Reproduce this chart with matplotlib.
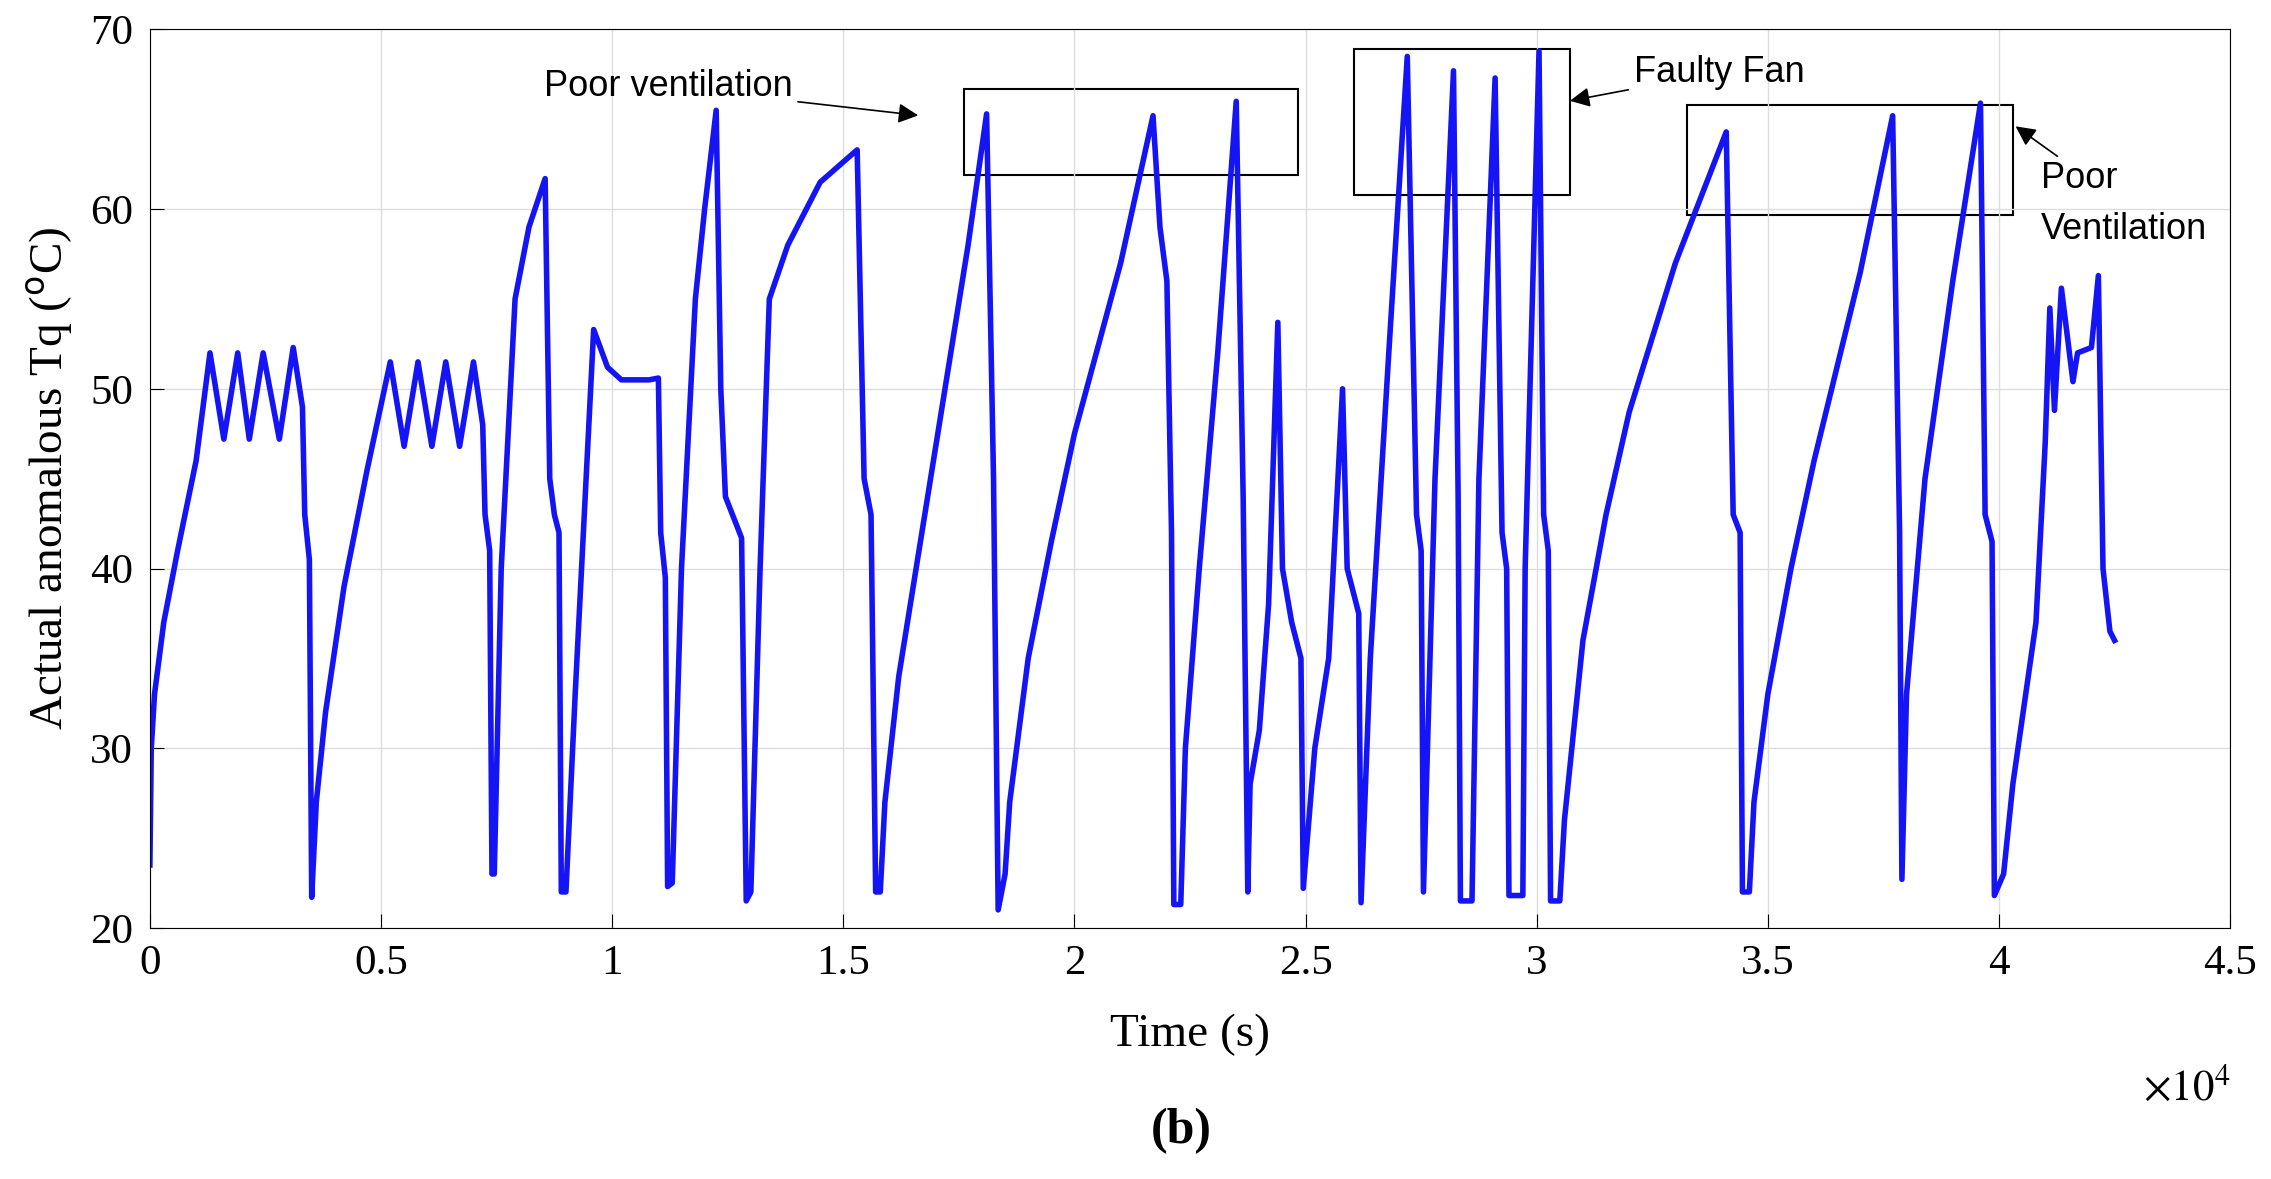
import matplotlib
matplotlib.use('Agg')
import matplotlib.pyplot as plt
import matplotlib.patches as patches

# time in units of 1e4 s, temperature in degC
t = [0, 0.003, 0.01, 0.03, 0.06, 0.1, 0.13, 0.16, 0.19, 0.215, 0.245, 0.28, 0.31, 0.33, 0.335, 0.345, 0.35,
     0.36, 0.38, 0.42, 0.47, 0.52, 0.55, 0.58, 0.61, 0.64, 0.67, 0.70, 0.72, 0.725, 0.735, 0.74, 0.745,
     0.76, 0.78, 0.79, 0.82, 0.855, 0.865, 0.875, 0.885, 0.89, 0.90, 0.92, 0.96, 0.99, 1.02, 1.08, 1.10,
     1.105, 1.115, 1.12, 1.13, 1.15, 1.18, 1.20, 1.225, 1.235, 1.245, 1.28, 1.29, 1.30, 1.32, 1.34, 1.38,
     1.45, 1.53, 1.545, 1.56, 1.57, 1.58, 1.59, 1.62, 1.67, 1.72, 1.77, 1.81, 1.825, 1.835, 1.85, 1.86,
     1.90, 1.95, 2.00, 2.10, 2.17, 2.185, 2.20, 2.21, 2.215, 2.23, 2.24, 2.27, 2.31, 2.35, 2.365, 2.375,
     2.38, 2.40, 2.42, 2.44, 2.45, 2.47, 2.49, 2.495, 2.52, 2.55, 2.58, 2.59, 2.615, 2.62, 2.64, 2.68,
     2.72, 2.74, 2.75, 2.755, 2.78, 2.82, 2.83, 2.835, 2.86, 2.875, 2.91, 2.925, 2.935, 2.94, 2.97, 2.975,
     3.005, 3.015, 3.025, 3.03, 3.05, 3.06, 3.10, 3.15, 3.20, 3.30, 3.41, 3.425, 3.44, 3.445, 3.46, 3.47,
     3.50, 3.55, 3.60, 3.70, 3.77, 3.785, 3.79, 3.80, 3.84, 3.90, 3.96, 3.97, 3.985, 3.99, 4.01, 4.03,
     4.08, 4.10, 4.11, 4.12, 4.135, 4.16, 4.17, 4.20, 4.215, 4.225, 4.24, 4.25]
temp = [23.5, 30, 33, 37, 41, 46, 52, 47.2, 52, 47.2, 52, 47.2, 52.3, 49, 43, 40.5, 21.7,
        27, 32, 39, 45.5, 51.5, 46.8, 51.5, 46.8, 51.5, 46.8, 51.5, 48, 43, 41, 23, 23,
        40, 50, 55, 59, 61.7, 45, 43, 42, 22, 22, 33, 53.3, 51.2, 50.5, 50.5, 50.6,
        42, 39.5, 22.3, 22.5, 40, 55, 60, 65.5, 50, 44, 41.7, 21.5, 22, 40, 55, 58,
        61.5, 63.3, 45, 43, 22, 22, 27, 34, 42, 50, 58, 65.3, 45, 21, 23, 27,
        35, 41.5, 47.5, 57, 65.2, 59, 56, 42, 21.3, 21.3, 30, 40, 52, 66, 44, 22,
        28, 31, 38, 53.7, 40, 37, 35, 22.2, 30, 35, 50, 40, 37.5, 21.4, 35, 52,
        68.5, 43, 41, 22, 45, 67.7, 44, 21.5, 21.5, 45, 67.3, 42, 40, 21.8, 21.8, 40,
        68.8, 43, 41, 21.5, 21.5, 26, 36, 43, 48.7, 57, 64.3, 43, 42, 22, 22, 27,
        33, 40, 46, 56.5, 65.2, 42, 22.7, 33, 45, 56, 65.9, 43, 41.5, 21.8, 23, 28,
        37, 47, 54.5, 48.8, 55.6, 50.4, 52, 52.3, 56.3, 40, 36.5, 36]

boxes = [(1.762, 61.9, 0.721, 4.8), (2.605, 60.8, 0.467, 8.1), (3.326, 59.7, 0.705, 6.1)]

serif = 'Liberation Serif'
sans = 'Liberation Sans'

fig = plt.figure(figsize=(22.71, 11.79), dpi=100)
ax = fig.add_axes([0.066, 0.213, 0.916, 0.762])
ax.plot(t, temp, color='#1414f5', lw=4)
ax.set_xlim(0, 4.5)
ax.set_ylim(20, 70)
ax.set_xticks([0, 0.5, 1, 1.5, 2, 2.5, 3, 3.5, 4, 4.5])
ax.set_xticklabels(['0', '0.5', '1', '1.5', '2', '2.5', '3', '3.5', '4', '4.5'])
ax.grid(True, color='#dddddd', lw=1)
ax.tick_params(labelsize=31, direction='in', length=10, pad=12)
for lab in ax.get_xticklabels() + ax.get_yticklabels():
    lab.set_fontfamily(serif)
ax.set_xlabel('Time (s)', fontsize=34, family=serif, labelpad=22)
ax.set_ylabel('Actual anomalous Tq ($^{\\rm o}$C)', fontsize=34, family=serif, labelpad=10)
ax.text(1.0, -0.155, r'$\times10^4$', transform=ax.transAxes, fontsize=31, ha='right', va='top',
        math_fontfamily='stix')
fig.text(0.52, 0.03, '(b)', fontsize=36, weight='bold', family=serif, ha='center')

for x, y, w, h in boxes:
    ax.add_patch(patches.Rectangle((x, y), w, h, fill=False, ec='black', lw=1.5))

ap = dict(arrowstyle='-|>', color='black', lw=1.2, mutation_scale=30)
ax.annotate('Poor ventilation', xy=(1.668, 65.2), xytext=(1.39, 66.8), fontsize=26,
            family=sans, ha='right', va='center', arrowprops=ap)
ax.annotate('Faulty Fan', xy=(3.066, 66.0), xytext=(3.21, 67.6), fontsize=26,
            family=sans, ha='left', va='center', arrowprops=ap)
ax.annotate('Poor\nVentilation', xy=(4.031, 64.7), xytext=(4.09, 60.3), fontsize=26,
            family=sans, ha='left', va='center', linespacing=1.6, arrowprops=ap)

fig.savefig('out.png')
